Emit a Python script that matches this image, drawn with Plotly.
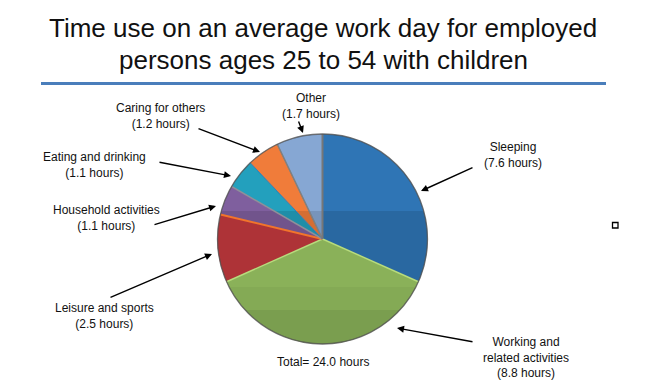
import numpy as np
import plotly.graph_objects as go

W, H = 670, 388
categories = ["Sleeping", "Working and<br>related activities", "Leisure and sports",
              "Household activities", "Eating and drinking", "Caring for others", "Other"]
hours = [7.6, 8.8, 2.5, 1.1, 1.1, 1.2, 1.7]
colors = ["#2f75b5", "#9cc764", "#c43a3e", "#7f5f9e", "#23a0bd", "#f07c3a", "#86a7d3"]
title_lines = ["Time use on an average work day for employed", "persons ages 25 to 54 with children"]
total_label = "Total= 24.0 hours"

CX, CY, R = 322.5, 239, 105


def px(x):
    return x / W


def py(y):
    return 1 - y / H


def segment(y0, alpha):
    """Filled part of the pie disc below pixel row y0."""
    a = np.arccos((y0 - CY) / R)
    t = np.linspace(-a, a, 60)
    xs = CX + R * np.sin(t)
    ys = CY + R * np.cos(t)
    d = "M " + " L ".join(f"{px(x):.5f},{py(y):.5f}" for x, y in zip(xs, ys)) + " Z"
    return dict(type="path", xref="paper", yref="paper", path=d,
                fillcolor=f"rgba(0,0,0,{alpha})", line_width=0)


def spoke(frac, color, width=1.5, r=R):
    a = 2 * np.pi * frac
    return dict(type="line", xref="paper", yref="paper",
                x0=px(CX), y0=py(CY), x1=px(CX + r * np.sin(a)), y1=py(CY - r * np.cos(a)),
                line=dict(color=color, width=width))


fig = go.Figure(go.Pie(
    values=hours, labels=categories, sort=False, direction="clockwise", rotation=0,
    textinfo="none", hoverinfo="label+value", showlegend=False,
    marker=dict(colors=colors, line=dict(color="rgba(70,70,70,0.35)", width=0.5)),
    domain=dict(x=[px(CX - R), px(CX + R)], y=[py(CY + R), py(CY - R)]),
))

cum = np.cumsum(hours) / sum(hours)
shapes = [
    segment(211, 0.11),
    segment(287, 0.04),
    segment(310, 0.07),
    spoke(cum[0], "#b7dc7c", 1.5),
    spoke(cum[1], "#b7dc7c", 1.5),
    spoke(cum[2], "#f2742b", 2),
    spoke(cum[3], "#8f8f9a", 1.5),
    spoke(cum[4], "#3b7fb5", 1),
    spoke(cum[5], "#808080", 1.5),
    spoke(1.0, "#777777", 2),
    dict(type="circle", xref="paper", yref="paper", x0=px(CX - R), x1=px(CX + R),
         y0=py(CY + R), y1=py(CY - R), line=dict(color="rgba(80,80,80,0.75)", width=1.3)),
    dict(type="line", xref="paper", yref="paper", x0=px(41), x1=px(606), y0=py(83.5), y1=py(83.5),
         line=dict(color="#4a7ebb", width=3)),
    dict(type="rect", xref="paper", yref="paper", x0=px(612.5), x1=px(618), y0=py(228), y1=py(222.5),
         line=dict(color="black", width=1.3), fillcolor="white"),
]

label_pos = [(513, 155), (526, 357), (104, 316), (106, 218), (94, 165), (160, 115.5), (311, 106)]
label_text = ["Sleeping<br>(7.6 hours)", "Working and<br>related activities<br>(8.8 hours)",
              "Leisure and sports<br>(2.5 hours)", "Household activities<br>(1.1 hours)",
              "Eating and drinking<br>(1.1 hours)", "Caring for others<br>(1.2 hours)",
              "Other<br>(1.7 hours)"]
arrows = [((474, 167), (421, 191)), ((474, 342), (397, 328)), ((109, 298), (212, 254)),
          ((153, 225), (216, 206)), ((158, 162), (231, 176)), ((197, 128), (260, 152)),
          ((298, 120), (303, 133))]

ann = []
for (x, y), t in zip(label_pos, label_text):
    ann.append(dict(x=px(x), y=py(y), xref="paper", yref="paper", text=t, showarrow=False,
                    xanchor="center", yanchor="middle",
                    font=dict(family="Liberation Sans", size=12, color="#111111"), align="center"))
for (x0, y0), (x1, y1) in arrows:
    ann.append(dict(x=px(x1), y=py(y1), xref="paper", yref="paper", text="", showarrow=True,
                    ax=x0 - x1, ay=y0 - y1, axref="pixel", ayref="pixel",
                    arrowhead=2, arrowsize=1, arrowwidth=1.4, arrowcolor="black"))
ann.append(dict(x=px(323), y=py(362), xref="paper", yref="paper", text=total_label, showarrow=False,
                xanchor="center", yanchor="middle",
                font=dict(family="Liberation Sans", size=12, color="#111111")))
for t, y in zip(title_lines, (28, 60)):
    ann.append(dict(x=px(323), y=py(y), xref="paper", yref="paper", text=t, showarrow=False,
                    xanchor="center", yanchor="middle",
                    font=dict(family="Liberation Sans", size=26, color="#111111"), align="center"))

fig.update_layout(width=W, height=H, margin=dict(l=0, r=0, t=0, b=0), paper_bgcolor="white",
                  shapes=shapes, annotations=ann, showlegend=False)
fig.write_html("out.html", post_script="document.body.style.margin='0';",
               config=dict(displayModeBar=False))
